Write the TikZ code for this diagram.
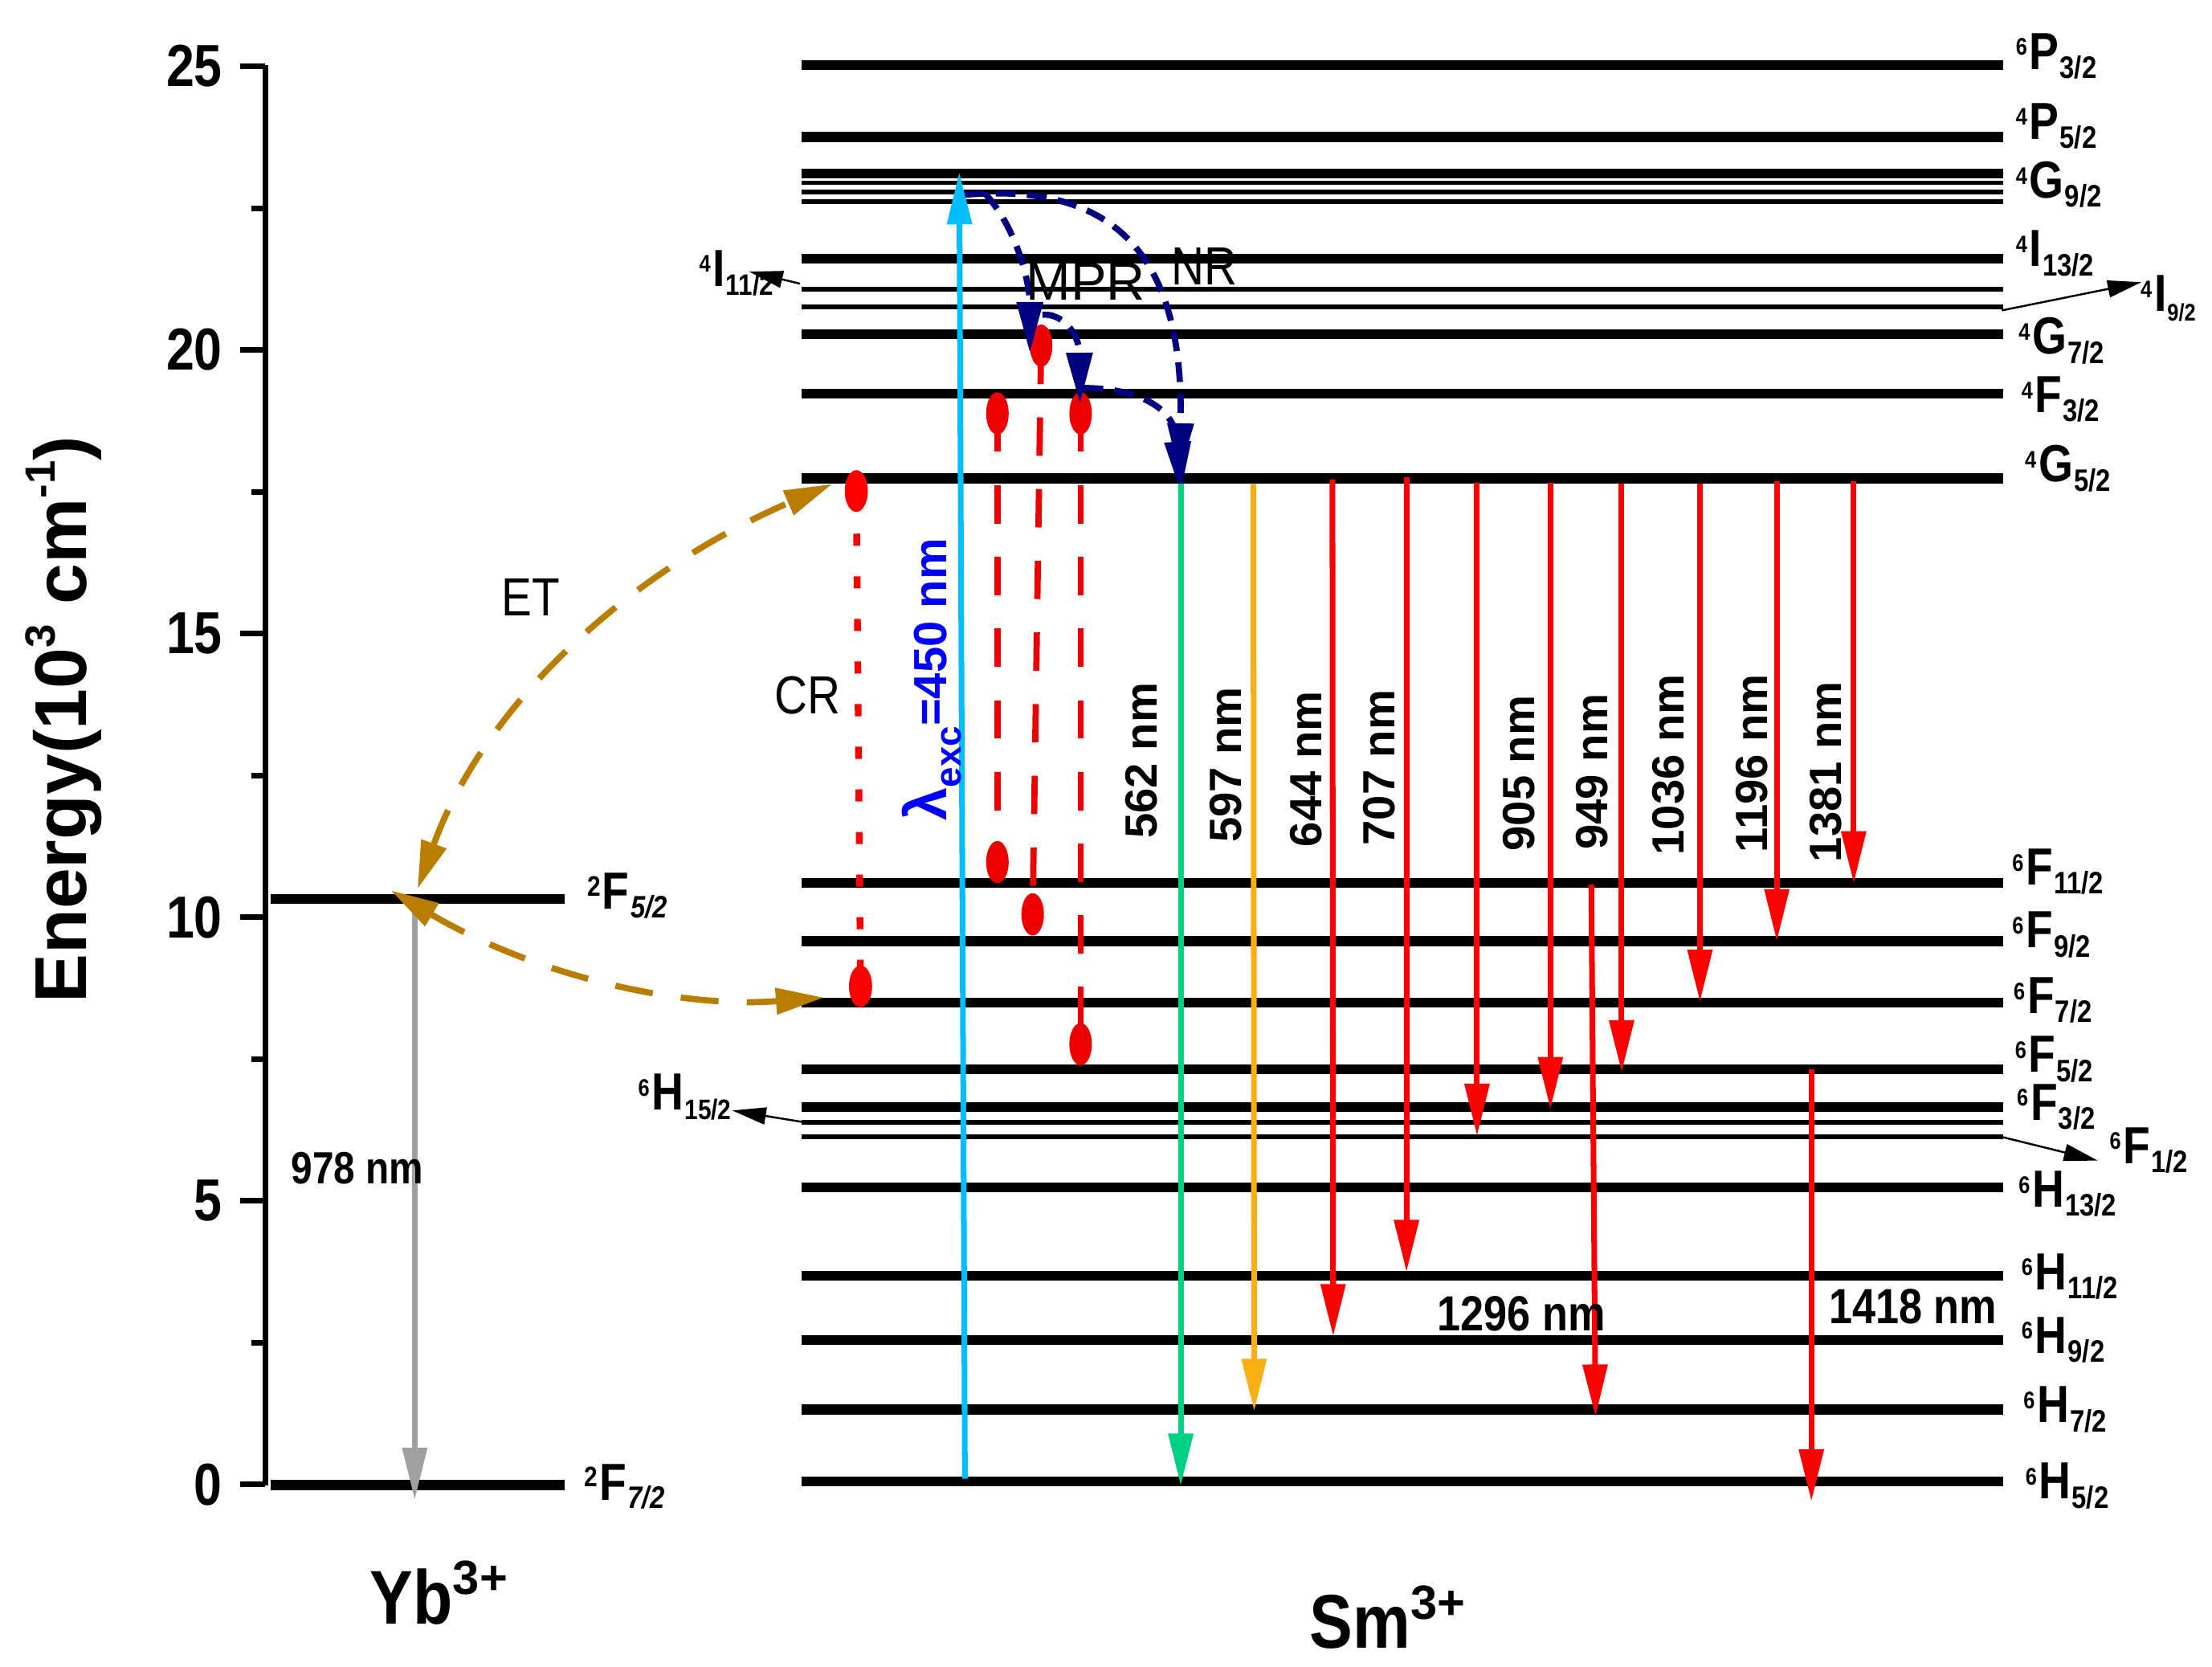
\documentclass[tikz,border=0pt]{standalone}
\usepackage{fontspec}
\usepackage{graphicx}
\setmainfont{Liberation Sans}
\newfontfamily\cond[FakeStretch=0.85]{Liberation Sans}
\usetikzlibrary{arrows.meta}
\definecolor{etgold}{RGB}{185,125,0}
\definecolor{navyb}{RGB}{0,0,128}
\definecolor{skyb}{RGB}{0,190,255}
\definecolor{grn}{RGB}{0,208,132}
\definecolor{orng}{RGB}{250,176,20}
\definecolor{redd}{RGB}{255,0,0}
\definecolor{dred}{RGB}{236,0,0}
\definecolor{grayy}{RGB}{160,160,160}
\definecolor{lblue}{RGB}{0,0,255}
\newcommand{\fsz}[1]{\fontsize{#1}{#1}\selectfont}
\newcommand{\term}[4][11]{{\cond\bfseries\raisebox{5pt}{\fsz{8.5}#2}\kern0.8pt{\fsz{18.5}#3}\kern0.3pt\raisebox{-3.2pt}{\fsz{#1}#4}}}
\newcommand{\ybterm}[3]{{\cond\bfseries\raisebox{4.8pt}{\fsz{10}#1}\kern0.5pt{\fsz{18.5}#2}\kern0.5pt\raisebox{-3pt}{\fsz{11}\itshape #3}}}
\begin{document}
\begin{tikzpicture}[x=0.5pt,y=-0.5pt,
  lvl/.style={line width=3.5pt},
  lvlthin/.style={line width=1.8pt},
  emis/.style={line width=2pt,-{Triangle[length=18.5pt,width=8.5pt]}},
  ptr/.style={line width=0.7pt,-{Triangle[length=12pt,width=6pt]}},
  etarr/.style={etgold,line width=2.2pt,dash pattern=on 13.5pt off 10pt,{Triangle[length=17pt,width=9pt]}-{Triangle[length=17pt,width=9pt]}},
  nrarr/.style={navyb,line width=2.2pt,dash pattern=on 7pt off 4pt,-{Triangle[length=18pt,width=9pt]}},
  crline/.style={redd,line width=2.4pt,dash pattern=on 4.3pt off 10.8pt},
  dline/.style={dred,line width=2.2pt,dash pattern=on 13.6pt off 11.8pt},
  lab/.style={inner sep=0pt,anchor=base west},
  wl/.style={inner sep=0pt,anchor=base,rotate=90,font=\bfseries\fsz{16}}]
\useasboundingbox (0,0) rectangle (1568,1181);
\fill[white] (0,0) rectangle (1568,1181);

% axis
\draw[line width=2pt] (188,46) -- (188,1053);
\foreach \v in {0,5,10,15,20,25}{
  \draw[line width=2pt] (170,{1052-40.2*\v}) -- (188,{1052-40.2*\v});
  \node[anchor=east,inner sep=0pt] (tick\v) at (158,{1052-40.2*\v}) {\cond\bfseries\fsz{21}\v};
}
\foreach \v in {2.5,7.5,12.5,17.5,22.5}{
  \draw[line width=2pt] (178,{1052-40.2*\v}) -- (188,{1052-40.2*\v});
}
\node[rotate=90,anchor=base,inner sep=0pt] (ylab) at (61,510) {\bfseries\fsz{26}Energy(10\raisebox{0.42em}{\fsz{15}3} cm\raisebox{0.42em}{\fsz{15}-1})};

% Yb levels
\draw[lvl] (192,637) -- (400,637);
\draw[lvl] (192,1052.5) -- (400,1052.5);
\node[lab] (yb52) at (416,644.5) {\ybterm{2}{F}{5/2}};
\node[lab] (yb72) at (414,1063) {\ybterm{2}{F}{7/2}};

% Sm levels
\foreach \y in {46,97,123,183.5,236.7,279,339,625.6,667,710.5,757.7,784.6,841.5,904,949.6,999,1050}{
  \draw[lvl] (568,\y) -- (1420,\y);
}
\draw[line width=1.3pt] (568,129.5) -- (1420,129.5);
\foreach \y in {136,143,205,217.5,805.5}{
  \draw[lvlthin] (568,\y) -- (1420,\y);
}
\draw[line width=1.6pt] (568,795.5) -- (1420,795.5);

% Sm level labels
\node[lab] (p32) at (1428.6,49) {\term{6}{P}{3/2}};
\node[lab] (p52) at (1428.6,98.8) {\term{4}{P}{5/2}};
\node[lab] (g92) at (1428.6,140.5) {\term{4}{G}{9/2}};
\node[lab] (i132) at (1428.6,189) {\term{4}{I}{13/2}};
\node[lab] (g72) at (1430.6,251) {\term{4}{G}{7/2}};
\node[lab] (f32u) at (1432.5,292.5) {\term{4}{F}{3/2}};
\node[lab] (g52) at (1435,341.5) {\term{4}{G}{5/2}};
\node[lab] (f112) at (1426,627.2) {\term{6}{F}{11/2}};
\node[lab] (f92) at (1426,671.8) {\term{6}{F}{9/2}};
\node[lab] (f72) at (1427,718.3) {\term{6}{F}{7/2}};
\node[lab] (f52) at (1428,760) {\term{6}{F}{5/2}};
\node[lab] (f32) at (1429.3,793.7) {\term{6}{F}{3/2}};
\node[lab] (h132) at (1430.6,855.5) {\term{6}{H}{13/2}};
\node[lab] (h112) at (1432.5,914) {\term{6}{H}{11/2}};
\node[lab] (h92) at (1432.5,958.8) {\term{6}{H}{9/2}};
\node[lab] (h72) at (1434,1008.3) {\term{6}{H}{7/2}};
\node[lab] (h52) at (1435.4,1062.4) {\term{6}{H}{5/2}};
\node[lab] (f12) at (1495,824.5) {\term{6}{F}{1/2}};
\node[lab] (i92) at (1517,220.8) {\term[8.5]{4}{I}{9/2}};
\node[lab] (i112) at (495.3,203) {\term[10.5]{4}{I}{11/2}};
\node[lab] (h152) at (452,786.8) {\term[10]{6}{H}{15/2}};

% pointer arrows
\coordinate (pi11a) at (567,201); \coordinate (pi11b) at (531,192.5);
\coordinate (pi9a) at (1419,220); \coordinate (pi9b) at (1518,200);
\coordinate (ph15a) at (571,795.5); \coordinate (ph15b) at (519,787);
\coordinate (pf1a) at (1418,805.5); \coordinate (pf1b) at (1487,822.5);
\draw[ptr] (pi11a) -- (pi11b);
\draw[ptr] (pi9a) -- (pi9b);
\draw[ptr] (ph15a) -- (ph15b);
\draw[ptr] (pf1a) -- (pf1b);

% Yb emission
\coordinate (yb0) at (294,637); \coordinate (yb1) at (294,1063);
\draw[emis,grayy] (yb0) -- (yb1);
\node[lab] (l978) at (206,839) {\cond\bfseries\fsz{16}978 nm};

% ET curves
\coordinate (et1a) at (296,630); \coordinate (et1b) at (590,343);
\coordinate (et2a) at (277,631); \coordinate (et2b) at (584,707);
\draw[etarr] (et1a) .. controls (342,503.3) and (440,407.7) .. (et1b);
\draw[etarr] (et2a) .. controls (376,689.7) and (478.3,715) .. (et2b);
\node[lab] (et) at (355,436.5) {\cond\fsz{19}ET};

% CR dotted line and red dashed lines
\coordinate (cr1) at (607,348); \coordinate (cr2) at (610,699);
\coordinate (a1) at (707,293); \coordinate (a2) at (707,611);
\coordinate (b1) at (738,245); \coordinate (b2) at (732,648);
\coordinate (c1) at (766,293); \coordinate (c2) at (766,740);
\draw[crline] (cr1) -- (cr2);
\draw[dline] (a1) -- (a2);
\draw[dline] (b1) -- (b2);
\draw[dline] (c1) -- (c2);
\foreach \p in {cr1,cr2}{\fill[redd] (\p) ellipse [x radius=4.1pt, y radius=7.4pt];}
\foreach \p in {a1,a2,b1,b2,c1,c2}{\fill[dred] (\p) ellipse [x radius=4pt, y radius=7.5pt];}
\node[lab] (cr) at (549,506) {\cond\fsz{19}CR};

% excitation
\coordinate (ex0) at (684,1048); \coordinate (ex1) at (680,122);
\draw[emis,skyb] (ex0) -- (ex1);
\node[wl,lblue] (lexc) at (671,481.5) {\fsz{21}λ\raisebox{-5pt}{\fsz{13}exc}\fsz{16.5}=450 nm};

% non-radiative
\coordinate (nr0) at (684,138); \coordinate (nr1) at (836,336);
\coordinate (m10) at (698,137); \coordinate (m11) at (730,250);
\coordinate (m20) at (739,223); \coordinate (m21) at (765.5,286);
\coordinate (q0) at (768,275); \coordinate (q1) at (837,349);
\draw[nrarr] (nr0) .. controls (780,130) and (840,170) .. (nr1);
\draw[nrarr] (m10) .. controls (720,160) and (730,200) .. (m11);
\draw[nrarr] (m20) .. controls (752,222) and (765,235) .. (m21);
\draw[nrarr] (q0) .. controls (800,275) and (833,285) .. (q1);
\node[lab] (mpr) at (727,212.5) {\fsz{19}MPR};
\node[lab] (nr) at (830,202) {\cond\fsz{19}NR};

% emissions from 4G5/2
\coordinate (s562) at (837,343); \coordinate (e562) at (837,1053);
\coordinate (s597) at (888.5,343); \coordinate (e597) at (889,1000);
\coordinate (s644) at (944.5,340); \coordinate (e644) at (945,947);
\coordinate (s707) at (997,338); \coordinate (e707) at (997,901.5);
\coordinate (s905) at (1047,342); \coordinate (e905) at (1047,805);
\coordinate (s949) at (1099,342); \coordinate (e949) at (1099,786);
\coordinate (s1036) at (1149.5,343); \coordinate (e1036) at (1149.5,760);
\coordinate (s1196) at (1205,343); \coordinate (e1196) at (1205,710);
\coordinate (s1381) at (1259.5,341); \coordinate (e1381) at (1259.5,667);
\coordinate (s113) at (1314,341); \coordinate (e113) at (1314,626);
\coordinate (s1296) at (1128,627); \coordinate (e1296) at (1131,1004);
\coordinate (s1418) at (1284,758); \coordinate (e1418) at (1284,1064);
\draw[emis,grn] (s562) -- (e562);
\draw[emis,orng] (s597) -- (e597);
\foreach \w in {644,707,905,949,1036,1196,1381,113,1296,1418}{
  \draw[emis,redd] (s\w) -- (e\w);
}
\node[wl] (w562) at (820,539) {562 nm};
\node[wl] (w597) at (880,542) {597 nm};
\node[wl] (w644) at (936.6,545) {644 nm};
\node[wl] (w707) at (988.5,544) {707 nm};
\node[wl] (w905) at (1087.6,548) {905 nm};
\node[wl] (w949) at (1139.6,547) {949 nm};
\node[wl] (w1036) at (1193.5,542) {1036 nm};
\node[wl] (w1196) at (1253,541) {1196 nm};
\node[wl] (w1381) at (1305,547) {1381 nm};
\node[lab] (w1296) at (1018.6,943) {\cond\bfseries\fsz{17.5}1296 nm};
\node[lab] (w1418) at (1296,938) {\cond\bfseries\fsz{17.5}1418 nm};

% ion labels
\node[lab] (yb) at (262,1150.7) {\cond\bfseries\fsz{27}Yb\raisebox{10.3pt}{\normalfont\bfseries\fsz{17}3+}};
\node[lab] (sm) at (928,1168) {\cond\bfseries\fsz{27}Sm\raisebox{10.3pt}{\normalfont\bfseries\fsz{17}3+}};
\end{tikzpicture}
\end{document}
